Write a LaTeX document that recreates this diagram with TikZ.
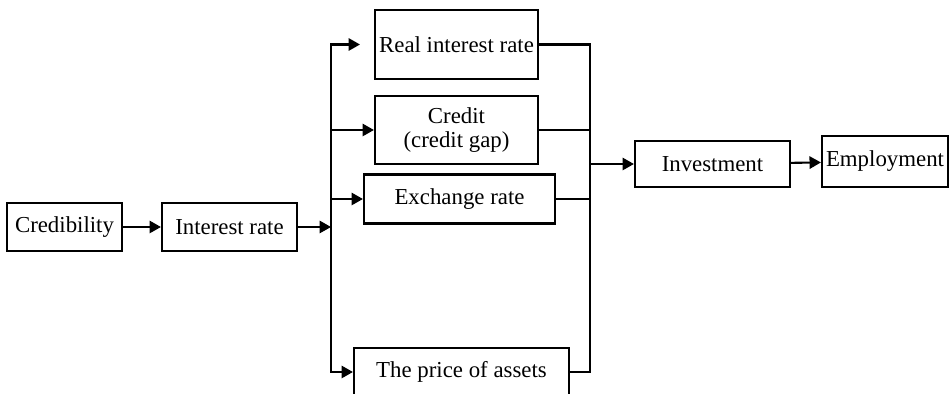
\documentclass[tikz,border=0pt]{standalone}
\usepackage{fontspec}
\setmainfont{Liberation Serif}
\usetikzlibrary{arrows.meta}
\begin{document}
\begin{tikzpicture}[x=0.02cm,y=-0.02cm,
    box/.style={draw,line width=1.2pt,inner sep=1pt,align=center,
      font=\fontsize{13pt}{13.6pt}\selectfont},
    link/.style={line width=1.2pt,-{Triangle[length=6.5pt,width=7pt]}},
    bus/.style={line width=1.2pt,line cap=rect}]
  \useasboundingbox (0,0) rectangle (950,394);
  \node[box,minimum width=115*0.02cm,minimum height=48*0.02cm] (cred) at (64.5,227) {Credibility};
  \node[box,minimum width=135*0.02cm,minimum height=48*0.02cm] (irate) at (229.5,227) {Interest rate};
  \node[box,minimum width=163*0.02cm,minimum height=69*0.02cm] (real) at (456.5,44.5) {Real interest rate};
  \node[box,minimum width=163*0.02cm,minimum height=68*0.02cm] (credit) at (456.5,130) {Credit\\(credit gap)};
  \node[box,minimum width=191*0.02cm,minimum height=49*0.02cm] (exch) at (459.5,199) {Exchange rate};
  \node[box,minimum width=215*0.02cm,minimum height=48*0.02cm] (price) at (461.5,372) {The price of assets};
  \node[box,minimum width=155*0.02cm,minimum height=46*0.02cm] (invest) at (712.5,164) {Investment};
  \node[box,minimum width=126*0.02cm,minimum height=51*0.02cm] (employ) at (885,161.5) {Employment};
  \coordinate (lbus) at (331,227);
  \coordinate (rbus) at (590,164);
  \coordinate (realtip) at (360,44.5);
  % left side
  \draw[link] (cred) -- (irate);
  \draw[link] (irate) -- (lbus);
  \draw[bus] (lbus |- real.west) -- (lbus |- price.west);
  \draw[link] (lbus |- real.west) -- (realtip);
  \draw[link] (lbus |- credit.west) -- (credit.west);
  \draw[link] (lbus |- exch.west) -- (exch.west);
  \draw[link] (lbus |- price.west) -- (price.west);
  % right side
  \draw[bus] (rbus |- real.east) -- (rbus |- price.east);
  \draw[bus] (real.east) -- (rbus |- real.east);
  \draw[bus] (credit.east) -- (rbus |- credit.east);
  \draw[bus] (exch.east) -- (rbus |- exch.east);
  \draw[bus] (price.east) -- (rbus |- price.east);
  \draw[link] (rbus) -- (invest);
  \draw[link] (invest) -- (employ);
\end{tikzpicture}
\end{document}
